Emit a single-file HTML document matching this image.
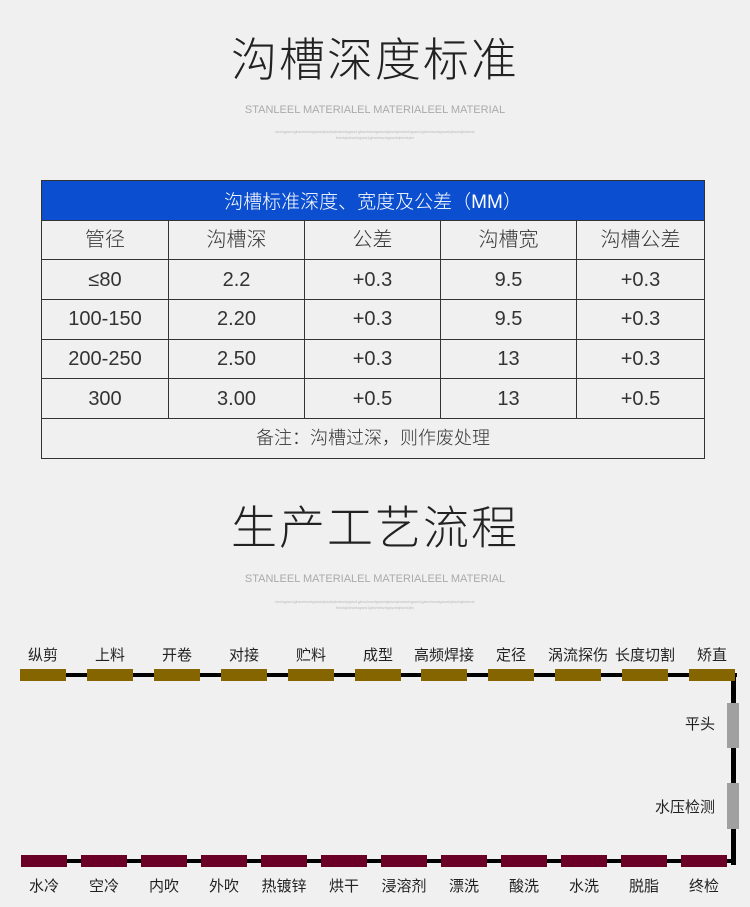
<!DOCTYPE html>
<html><head><meta charset="utf-8"><style>
body{margin:0;width:750px;height:907px;background:#f0f0f0;font-family:"Liberation Sans","Noto Sans CJK SC",sans-serif;position:relative;overflow:hidden;color:#333}
.a{position:absolute}
.t{left:0;width:750px;text-align:center;font-size:46px;font-weight:300;color:#222;letter-spacing:2px}
.s{left:0;width:750px;text-align:center;font-size:11px;color:#aaa}
.d{left:175px;width:400px;text-align:center;font-size:4px;color:#bbb;line-height:6px}
table{position:absolute;left:41px;top:180px;width:664px;border-collapse:collapse;font-size:20px;font-weight:300}
td{border:1px solid #333;height:38.7px;text-align:center;padding:0;color:#333;line-height:20px}
th{background:#0b4fd0;color:#fff;font-weight:300;height:38.7px;font-size:19px;border:1px solid #333;padding:0}
.b{position:absolute;height:12px;width:46px}
.l{position:absolute;font-size:15px;width:80px;text-align:center;color:#222}
</style></head><body>
<div class="a t" style="top:24px">沟槽深度标准</div>
<div class="a s" style="top:104px">STANLEEL MATERIALEL MATERIALEEL MATERIAL</div>
<div class="a d" style="top:129px">lwxlxgww1gbwxlxwxlgswxlqbwxlqbxlwxlxgww1gbwxlxwxlgswxlqbwxlqbxlwxlxgww1gbwxlxwxlgswxlqbwxlqbxlwxlx<br>bwxlqbxlwxlxgww1gbwxlxwxlgswxlqbwxlqbx</div>
<table>
<tr><th colspan="5">沟槽标准深度、宽度及公差（MM）</th></tr>
<tr><td style="width:126px">管径</td><td style="width:135px">沟槽深</td><td style="width:135px">公差</td><td style="width:135px">沟槽宽</td><td>沟槽公差</td></tr>
<tr><td>≤80</td><td>2.2</td><td>+0.3</td><td>9.5</td><td>+0.3</td></tr>
<tr><td>100-150</td><td>2.20</td><td>+0.3</td><td>9.5</td><td>+0.3</td></tr>
<tr><td>200-250</td><td>2.50</td><td>+0.3</td><td>13</td><td>+0.3</td></tr>
<tr><td>300</td><td>3.00</td><td>+0.5</td><td>13</td><td>+0.5</td></tr>
<tr><td colspan="5" style="font-size:18px">备注：沟槽过深，则作废处理</td></tr>
</table>
<div class="a t" style="top:492px">生产工艺流程</div>
<div class="a s" style="top:573px">STANLEEL MATERIALEL MATERIALEEL MATERIAL</div>
<div class="a d" style="top:599px">lwxlxgww1gbwxlxwxlgswxlqbwxlqbxlwxlxgww1gbwxlxwxlgswxlqbwxlqbxlwxlxgww1gbwxlxwxlgswxlqbwxlqbxlwxlx<br>bwxlqbxlwxlxgww1gbwxlxwxlgswxlqbwxlqbx</div>
<div class="a" style="left:20px;top:673px;width:717px;height:4px;background:#000"></div>
<div class="a" style="left:731px;top:673px;width:5px;height:192px;background:#000"></div>
<div class="a" style="left:21px;top:859px;width:713px;height:4px;background:#000"></div>
<div class="b" style="left:727px;top:703px;width:12px;height:45px;background:#a0a0a0"></div>
<div class="b" style="left:727px;top:783px;width:12px;height:46px;background:#a0a0a0"></div>
<div class="l" style="left:655px;top:713px;width:60px;text-align:right">平头</div>
<div class="l" style="left:625px;top:796px;width:90px;text-align:right">水压检测</div>
<div id="top"></div><div id="bot"></div>
<script>
var tl=["纵剪","上料","开卷","对接","贮料","成型","高频焊接","定径","涡流探伤","长度切割","矫直"];
var tx=[20,87,154,221,288,355,421,488,555,622,689];
var bl=["水冷","空冷","内吹","外吹","热镀锌","烘干","浸溶剂","漂洗","酸洗","水洗","脱脂","终检"];
var h="";
for(var i=0;i<11;i++){h+='<div class="b" style="left:'+tx[i]+'px;top:669px;background:#856500"></div><div class="l" style="left:'+(tx[i]-17)+'px;top:644px">'+tl[i]+'</div>';}
for(var i=0;i<12;i++){var x=21+i*60;h+='<div class="b" style="left:'+x+'px;top:855px;background:#6b0026"></div><div class="l" style="left:'+(x-17)+'px;top:875px">'+bl[i]+'</div>';}
document.getElementById("top").innerHTML=h;
</script>
</body></html>
